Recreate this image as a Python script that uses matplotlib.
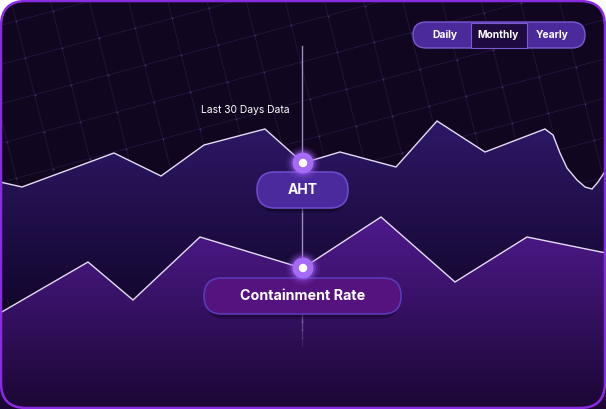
"""
Recreate the AHT / Containment Rate dark promo chart.
"""
import numpy as np
import matplotlib
matplotlib.use('Agg')
import matplotlib.pyplot as plt
from matplotlib.patches import FancyBboxPatch, Polygon, Circle
from matplotlib.colors import LinearSegmentedColormap

W, H = 606, 409

# upper series (AHT), pixel-space readings
aht_x = [0, 22, 114, 161, 204, 265, 303, 340, 396, 437, 485, 545,
         553, 560, 567, 577, 585, 592, 598, 606]
aht_y = [182, 187, 153, 176, 145, 129, 163, 152, 167, 121, 152, 129,
         135, 153, 168, 180, 187, 189, 182, 170]

# lower series (Containment Rate)
cr_x = [0, 88, 133, 200, 292, 303, 381, 455, 527, 606]
cr_y = [313, 262, 300, 237, 265, 268, 217, 282, 237, 253]

buttons = ['Daily', 'Monthly', 'Yearly']
button_x = [445, 498, 552]

BG = '#10061f'
LINE = '#e6dcf5'


def gradient_fill(ax, xs, ys, top, bottom, c_top, c_bottom, clip):
    cmap = LinearSegmentedColormap.from_list('g', [c_top, c_bottom])
    grad = np.linspace(0, 1, 256).reshape(-1, 1)
    poly = Polygon(list(zip(xs, ys)) + [(xs[-1], H), (xs[0], H)], closed=True,
                   facecolor='none', edgecolor='none')
    ax.add_patch(poly)
    im = ax.imshow(grad, cmap=cmap, aspect='auto', extent=[0, W, bottom, top], zorder=2)
    im.set_clip_path(poly)
    ax.plot(xs, ys, color=LINE, lw=1.0, zorder=3, clip_path=clip, solid_joinstyle='miter')


def marker(ax, x, y):
    for r, a in [(17, 0.10), (14.5, 0.18), (12.5, 0.35)]:
        ax.add_patch(Circle((x, y), r, color='#9a5cf0', alpha=a, lw=0, zorder=6))
    ax.add_patch(Circle((x, y), 10.5, color='#a66bf5', lw=0, zorder=6))
    ax.add_patch(Circle((x, y), 4.2, color='white', lw=0, zorder=7))


def pill(ax, x0, y0, x1, y1, fc, ec, text, fs):
    h = y1 - y0
    for off, a in [(5, 0.25), (3, 0.3)]:
        ax.add_patch(FancyBboxPatch((x0 + 2, y0 + off), x1 - x0 - 4, h,
                                    boxstyle=f'round,pad=0,rounding_size={h / 2}',
                                    fc='#07020f', ec='none', alpha=a, zorder=4))
    ax.add_patch(FancyBboxPatch((x0, y0), x1 - x0, h,
                                boxstyle=f'round,pad=0,rounding_size={h / 2}',
                                fc=fc, ec=ec, lw=1.2, zorder=5))
    ax.text((x0 + x1) / 2, (y0 + y1) / 2 + 0.5, text, color='white', fontsize=fs,
            fontweight='bold', ha='center', va='center', family='Inter', zorder=8)


fig = plt.figure(figsize=(W / 100, H / 100), dpi=100)
fig.patch.set_facecolor('white')
ax = fig.add_axes([0, 0, 1, 1])
ax.set_xlim(0, W)
ax.set_ylim(H, 0)
ax.axis('off')

card = FancyBboxPatch((1, 1), W - 2, H - 2, boxstyle='round,pad=0,rounding_size=25',
                      fc=BG, ec='none', zorder=0)
ax.add_patch(card)

# tilted background grid
u = np.array([1.0, -0.27]); u /= np.linalg.norm(u)
v = np.array([0.25, 1.0]); v /= np.linalg.norm(v)
origin = np.array([62.0, 48.0])
step = 38.0
for k in range(-12, 22):
    for d1, d2 in [(u, v), (v, u)]:
        p0 = origin + k * step * d2 - 900 * d1
        p1 = origin + k * step * d2 + 900 * d1
        ax.plot([p0[0], p1[0]], [p0[1], p1[1]], color='#24163f', lw=0.6,
                zorder=1, clip_path=card)
pts = np.array([origin + i * step * u + j * step * v
                for i in range(-12, 22) for j in range(-12, 22)])
ax.scatter(pts[:, 0], pts[:, 1], s=2, color='#3b2d5c', lw=0, zorder=1, clip_path=card)

gradient_fill(ax, aht_x, aht_y, 120, 300, '#2e1867', '#140730', card)
gradient_fill(ax, cr_x, cr_y, 215, 409, '#4f1a8e', '#1b0734', card)

# vertical guide, fading out below the lower pill
ax.plot([302, 302], [46, 314], color='#9b8cbc', lw=1.0, zorder=4)
for y0, a in [(314, 0.6), (322, 0.45), (330, 0.3), (338, 0.15)]:
    ax.plot([302, 302], [y0, y0 + 8], color='#9b8cbc', lw=1.0, alpha=a, zorder=4)

ax.text(201, 110, 'Last 30 Days Data', color='white', fontsize=7.4,
        family='Inter', ha='left', va='center', zorder=8)

pill(ax, 257, 172, 348, 208, '#4a2a9c', '#6a4bc8', 'AHT', 10)
pill(ax, 204, 278, 401, 314, '#55137f', '#5a3ab8', 'Containment Rate', 10.3)
marker(ax, 303, 163)
marker(ax, 303, 268)

# period toggle
bx0, bx1, by0, by1 = 413, 585, 22, 48
ax.add_patch(FancyBboxPatch((bx0, by0), bx1 - bx0, by1 - by0,
                            boxstyle='round,pad=0,rounding_size=13',
                            fc='#4b2b9b', ec='#7a5ad0', lw=1.0, zorder=5))
ax.add_patch(FancyBboxPatch((471, by0 + 0.5), 56, by1 - by0 - 1,
                            boxstyle='square,pad=0', fc='#1f0b40',
                            ec='#7a5ad0', lw=0.8, zorder=6))
for name, cx in zip(buttons, button_x):
    ax.text(cx, 35.5, name, color='white', fontsize=7.4, fontweight='bold',
            family='Inter', ha='center', va='center', zorder=8)

# card border
ax.add_patch(FancyBboxPatch((1, 1), W - 2, H - 2, boxstyle='round,pad=0,rounding_size=25',
                            fc='none', ec='#8a2be2', lw=1.8, zorder=9))

fig.savefig('out.png', dpi=100, facecolor='white')
